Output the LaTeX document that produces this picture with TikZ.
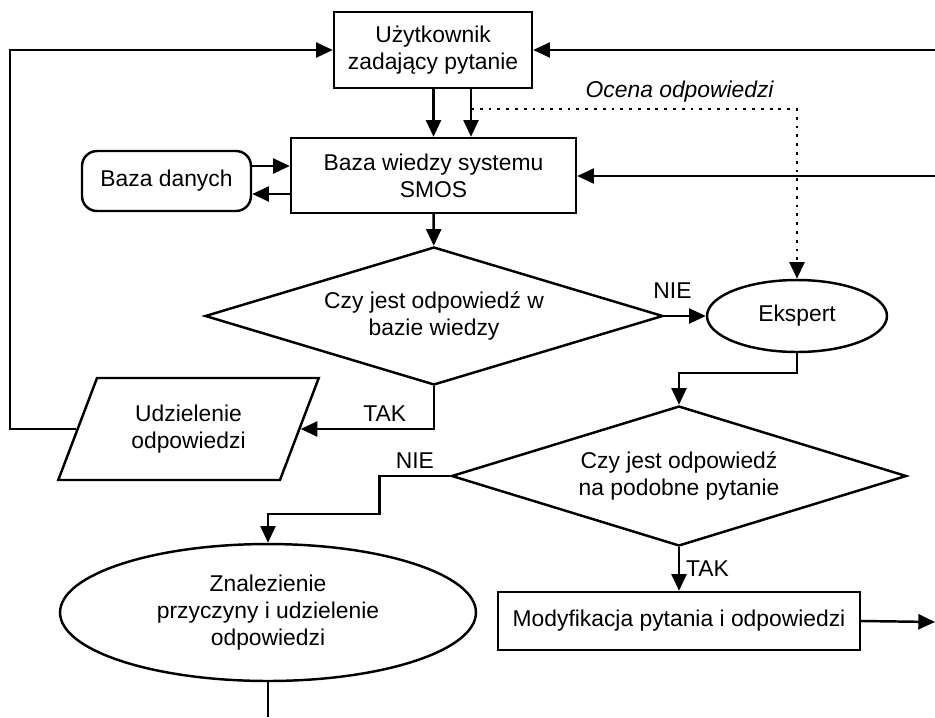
\documentclass[tikz,border=0pt]{standalone}
\usepackage{fontspec}
\setmainfont{Liberation Sans}
\usetikzlibrary{shapes.geometric,arrows.meta}

\begin{document}
\begin{tikzpicture}[x=0.02cm,y=-0.02cm,every node/.style={font=\fontsize{13}{15.4}\selectfont}]
\tikzstyle{lien}=[-{Triangle[length=9.5pt,width=8.5pt]},line width=1.4pt]
\tikzstyle{pointille}=[lien,line width=1.6pt,dash pattern=on 1.6pt off 3.4pt]
\tikzset{boite/.style={draw,line width=1.4pt,align=center,inner sep=0pt,minimum width=#1},
boite/.default={3cm},
question/.style={draw,line width=1.4pt,diamond,align=center,inner sep=0pt,shape aspect=3.3},
bulle/.style={draw,line width=1.4pt,ellipse,align=center,inner sep=0pt}}
\useasboundingbox (0,0) rectangle (935,717);

\node[boite=3.96cm,minimum height=1.52cm] (Q) at (433,50) {Użytkownik\\zadający pytanie};
\node[boite=5.7cm,minimum height=1.5cm] (BW) at (433.5,175.5) {Baza wiedzy systemu\\SMOS};
\node[boite=3.38cm,minimum height=1.2cm,rounded corners=0.3cm] (BD) at (166.5,181) {Baza danych};
\node[question,minimum width=9.16cm,minimum height=2.76cm] (D1) at (434,316) {Czy jest odpowiedź w\\bazie wiedzy};
\node[bulle,minimum width=3.6cm,minimum height=1.44cm] (E) at (797,316) {Ekspert};
\node[draw,line width=1.4pt,trapezium,trapezium left angle=63.4,trapezium right angle=116.6,
  trapezium stretches=true,minimum width=5.26cm,minimum height=2.04cm,inner sep=0pt,align=center] (U) at (188.5,429) {Udzielenie\\odpowiedzi};
\node[question,minimum width=9.1cm,minimum height=2.8cm] (D2) at (679,476) {Czy jest odpowiedź\\na podobne pytanie};
\node[bulle,minimum width=8.32cm,minimum height=2.74cm] (Z) at (268,612.5) {Znalezienie\\przyczyny i udzielenie\\odpowiedzi};
\node[boite=7.24cm,minimum height=1.16cm] (M) at (679,621) {Modyfikacja pytania i odpowiedzi};

\coordinate (coin) at (10,50);
\coordinate (droite1) at (935,50);
\coordinate (droite2) at (935,176);
\coordinate (eval) at (471,109);
\coordinate (sortie) at (935,622);
\coordinate (bas) at (268,717);

% retour vers l'utilisateur
\draw[lien] (U.west) -| (coin) -- (Q.west |- coin);
\draw[lien] (droite1) -- (Q.east |- droite1);
\draw[lien] (droite2) -- (BW.east |- droite2);

\draw[lien] (Q.south -| BW.north) -- (BW.north);
\draw[lien] (eval |- Q.south) -- (eval |- BW.north);
\draw[pointille] (eval) -| node[above,pos=0.32,font=\fontsize{13}{15.4}\selectfont\itshape]{Ocena odpowiedzi} (E.north);

\draw[lien] (BD.east |- 0,166) -- (BW.west |- 0,166);
\draw[lien] (BW.west |- 0,194) -- (BD.east |- 0,194);

\draw[lien] (BW) -- (D1);
\draw[lien] (D1) -- node[above=6pt,pos=0.2]{NIE} (E);
\draw[lien] (D1.south) |- node[above,pos=0.685]{TAK} (U);
\draw[lien] (E.south) -- ++(0,20) -| (D2.north);

\draw[lien] (D2.west) -- node[above]{NIE} ++(-71,0) -- ++(0,38) -| (Z.north);
\draw[lien] (D2.south) -- node[right]{TAK} (M.north);
\draw[lien] (M.east) -- (sortie);
\draw[line width=1.4pt] (Z.south) -- (bas);

\end{tikzpicture}
\end{document}
